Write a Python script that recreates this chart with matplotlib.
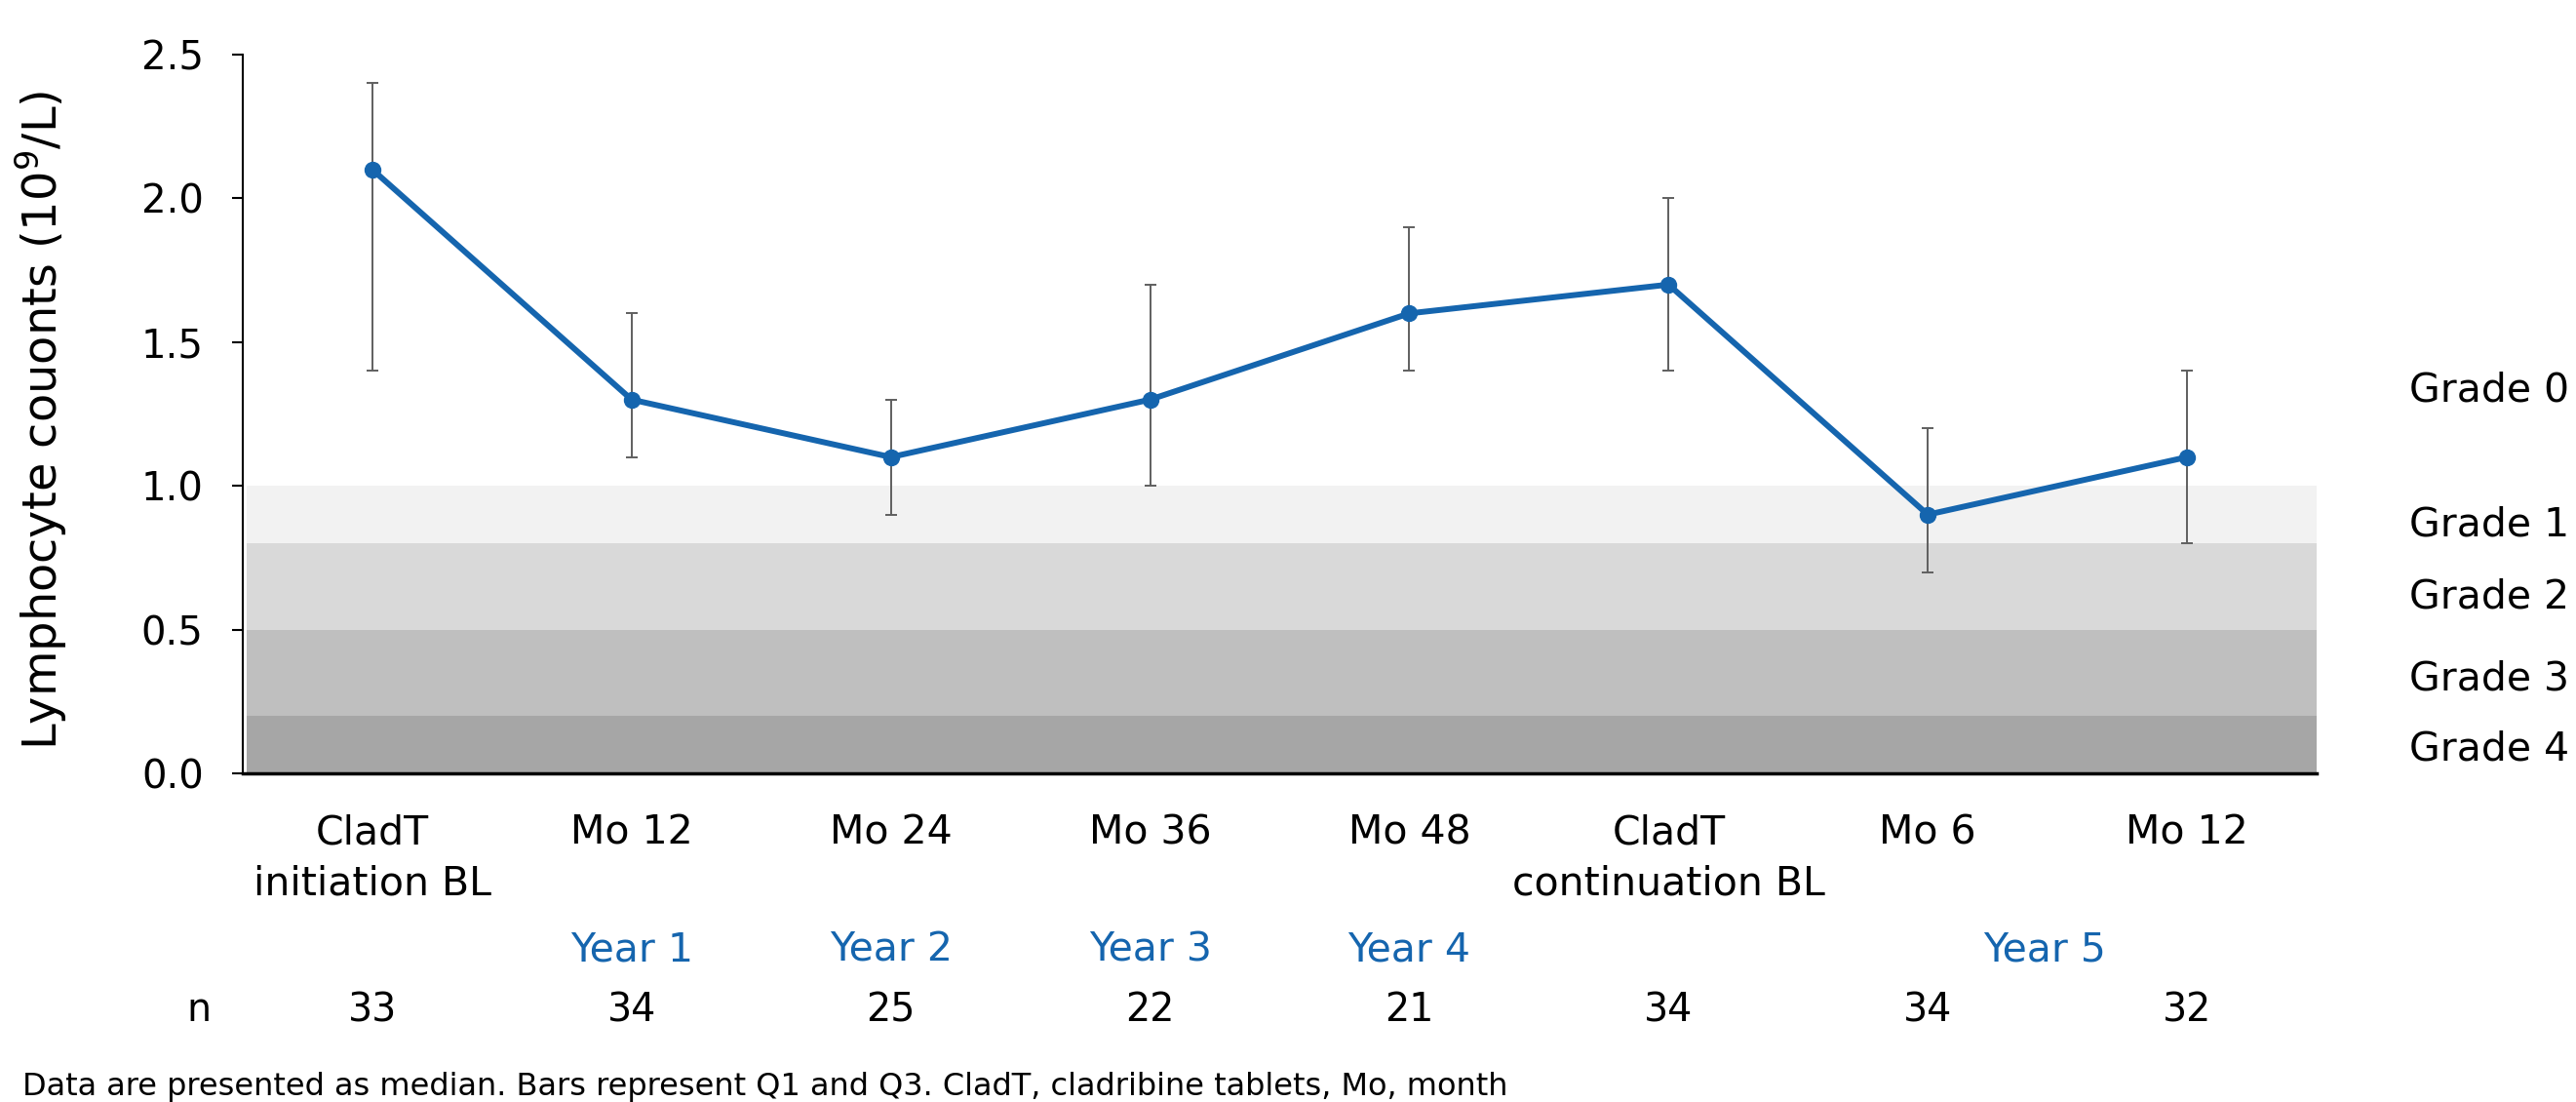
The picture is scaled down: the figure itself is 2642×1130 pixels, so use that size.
import matplotlib
matplotlib.use("Agg")
import matplotlib.pyplot as plt
import matplotlib.transforms as mtransforms

# Time points and lymphocyte counts (median with Q1/Q3)
categories = ["CladT\ninitiation BL", "Mo 12", "Mo 24", "Mo 36", "Mo 48",
              "CladT\ncontinuation BL", "Mo 6", "Mo 12"]
median = [2.1, 1.3, 1.1, 1.3, 1.6, 1.7, 0.9, 1.1]
q1 = [1.4, 1.1, 0.9, 1.0, 1.4, 1.4, 0.7, 0.8]
q3 = [2.4, 1.6, 1.3, 1.7, 1.9, 2.0, 1.2, 1.4]
n_patients = [33, 34, 25, 22, 21, 34, 34, 32]

# Year labels under the time points (position in category units)
year_labels = ["Year 1", "Year 2", "Year 3", "Year 4", "Year 5"]
year_pos = [1, 2, 3, 4, 6.45]

# Lymphopenia grade bands (lower, upper)
grade_bands = [(0.0, 0.2), (0.2, 0.5), (0.5, 0.8), (0.8, 1.0)]
grade_colors = ["#a6a6a6", "#bfbfbf", "#d9d9d9", "#f2f2f2"]
grade_names = ["Grade 0", "Grade 1", "Grade 2", "Grade 3", "Grade 4"]

BLUE = "#1565ae"
FS = 29.5
W, H = 2642, 1130


def fy(px):
    """Figure-fraction y from a pixel row measured from the top."""
    return 1 - px / H


plt.rcParams["font.family"] = ["DejaVu Sans"]

fig = plt.figure(figsize=(W / 100, H / 100), dpi=100)
ax = fig.add_axes([249 / W, fy(793), (2376 - 249) / W, (793 - 56) / H])

x = list(range(len(categories)))

for (lo, hi), c in zip(grade_bands, grade_colors):
    ax.axhspan(lo, hi, xmin=0.002, color=c, lw=0, zorder=0)

yerr = [[m - a for m, a in zip(median, q1)], [b - m for m, b in zip(median, q3)]]
ax.errorbar(x, median, yerr=yerr, fmt="none", ecolor="#5f5f5f", elinewidth=1.4,
            capsize=4.4, capthick=1.4, zorder=2)
ax.plot(x, median, color=BLUE, lw=4.3, marker="o", ms=11.5, zorder=3)

ax.set_xlim(-0.5, 7.5)
ax.set_ylim(0, 2.5)
yt = [0, 0.5, 1.0, 1.5, 2.0, 2.5]
ax.set_yticks(yt)
ax.set_yticklabels([f"{v:.1f}" for v in yt], fontsize=29)
ax.tick_params(axis="y", length=8, width=1.5, pad=21)
ax.set_xticks([])

for s in ["top", "right"]:
    ax.spines[s].set_visible(False)
ax.spines["left"].set_linewidth(1.5)
ax.spines["bottom"].set_linewidth(2.5)

fig.text(42 / W, fy(431), "Lymphocyte couonts (10$^9$/L)", fontsize=34.5,
         rotation=90, ha="center", va="center")

# Grade labels on the right
for name, base in zip(grade_names, [411, 549, 623, 707, 779]):
    fig.text(2471 / W, fy(base), name, fontsize=FS, ha="left", va="baseline")

# Category labels, year row and n row below the axis
trans_b = mtransforms.blended_transform_factory(ax.transData, fig.transFigure)
for px, lab in zip(x, categories):
    for k, line in enumerate(lab.split("\n")):
        fig.text(px, fy(866 + 51 * k), line, transform=trans_b, fontsize=FS,
                 ha="center", va="baseline")
for lab, px in zip(year_labels, year_pos):
    fig.text(px, fy(985), lab, transform=trans_b, fontsize=FS,
             color=BLUE, ha="center", va="baseline")
fig.text(-0.67, fy(1047), "n", transform=trans_b, fontsize=28.5,
         ha="center", va="baseline")
for px, nv in zip(x, n_patients):
    fig.text(px, fy(1047), str(nv), transform=trans_b, fontsize=28.5,
             ha="center", va="baseline")

fig.text(23 / W, fy(1123),
         "Data are presented as median. Bars represent Q1 and Q3. CladT, cladribine tablets, Mo, month",
         fontsize=23, ha="left", va="baseline")

fig.savefig("out.png", dpi=100)
